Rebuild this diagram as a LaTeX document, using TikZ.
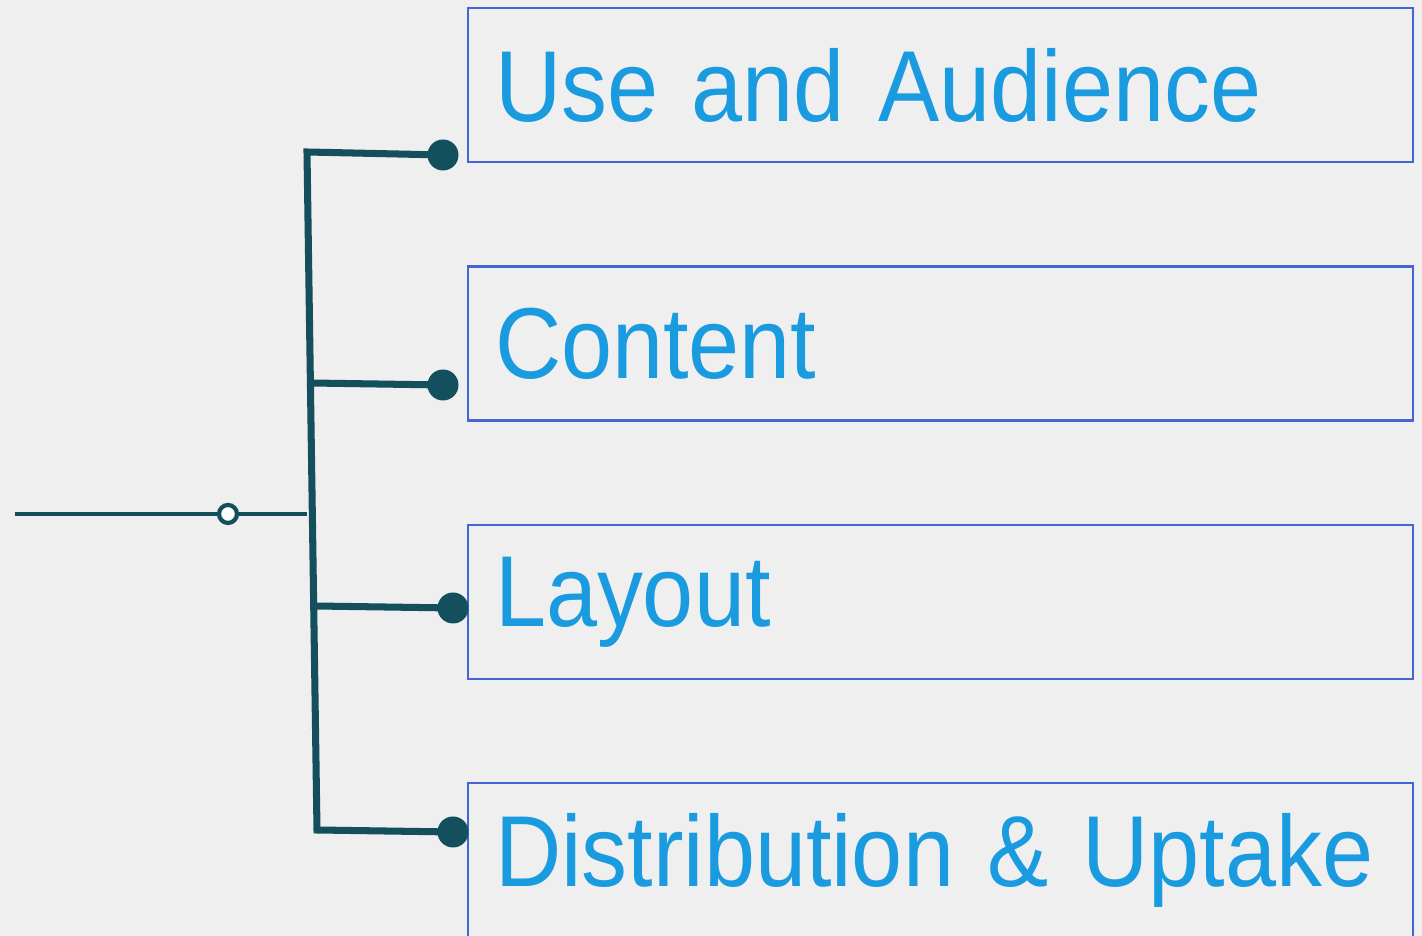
\documentclass[tikz,border=0pt]{standalone}
\usepackage{fontspec}
\newfontfamily\topicfont[FakeStretch=0.91]{Liberation Sans}
\usepackage{tikz}
\usetikzlibrary{arrows.meta, positioning, calc}

\definecolor{bgcol}{HTML}{EFEFEF}
\definecolor{textblue}{HTML}{1A9BE0}
\definecolor{boxblue}{HTML}{4565D2}
\definecolor{linecol}{HTML}{134F5C}

\tikzset{
  topic/.style={draw=boxblue, line width=0.6pt, minimum height=1.54cm, text width=8.91cm, inner xsep=0.27cm, align=left, text=textblue, font=\topicfont\fontsize{28.7pt}{34pt}\selectfont},
  dot/.style={circle, fill=linecol, inner sep=0pt, minimum size=0.31cm},
  opendot/.style={circle, draw=linecol, fill=white, line width=1.2pt, inner sep=0pt, minimum size=0.18cm},
  branch/.style={draw=linecol, line width=2pt, line join=miter}
}

\begin{document}
\begin{tikzpicture}
\useasboundingbox[fill=bgcol] (0,0) rectangle (14.22,-9.36);

\node (use) at (9.405,-0.85) [topic] {Use and Audience};
\node (content) at (9.405,-3.435) [topic] {Content};
\node (layout) at (9.405,-6.02) [topic] {Layout};
\node (distrib) at (9.405,-8.60) [topic] {\mbox{Distribution \& Uptake}};

\node (d1) at (4.43,-1.55) [dot] {};
\node (d2) at (4.43,-3.85) [dot] {};
\node (d3) at (4.53,-6.08) [dot] {};
\node (d4) at (4.53,-8.32) [dot] {};

\coordinate (j1) at (3.07,-1.52);
\coordinate (j2) at (3.11,-3.83);
\coordinate (j3) at (3.15,-6.06);
\coordinate (j4) at (3.17,-8.30);

\coordinate (in) at (0.15,-5.14);
\coordinate (tin) at (3.07,-5.14);
\node (gate) at (2.28,-5.14) [opendot] {};

\draw[branch] (d1.center) -- (j1) -- (j4) -- (d4.center);
\draw[branch] (j2) -- (d2.center);
\draw[branch] (j3) -- (d3.center);

\draw[linecol, line width=1.1pt] (in) -- (gate);
\draw[linecol, line width=1.1pt] (gate) -- (tin);
\end{tikzpicture}
\end{document}
